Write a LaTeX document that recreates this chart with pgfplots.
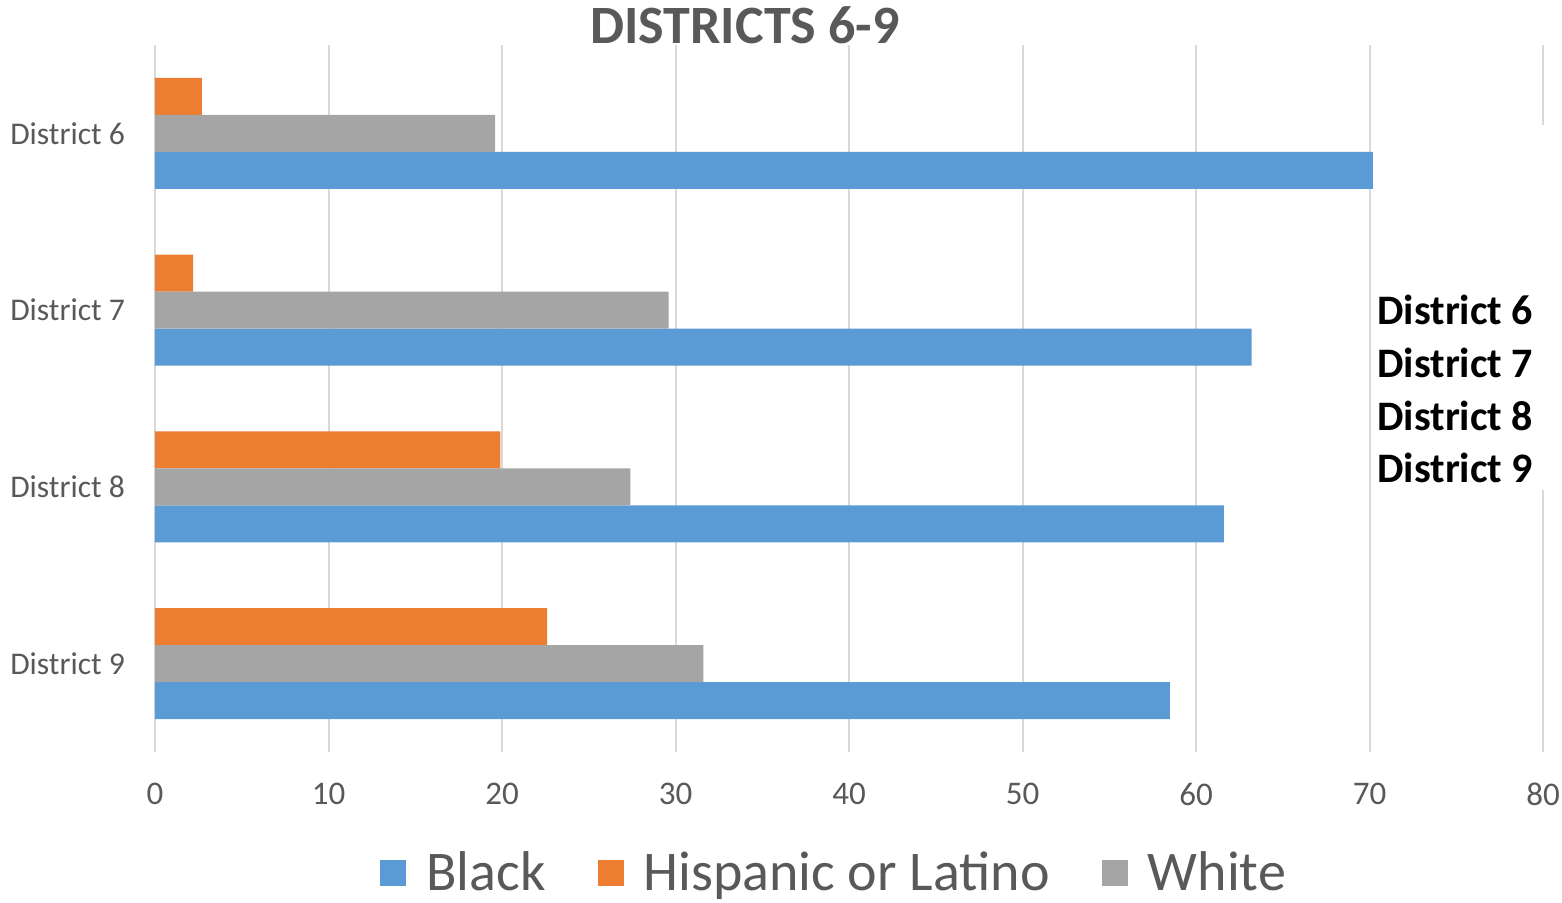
\documentclass[border=0pt]{standalone}
\usepackage{pgfplots}
\pgfplotsset{compat=1.18}
\usepackage{fontspec}
\setmainfont{Carlito}
\definecolor{cblue}{HTML}{5B9BD5}
\definecolor{corange}{HTML}{ED7D31}
\definecolor{cgray}{HTML}{A5A5A5}
\definecolor{ctext}{HTML}{595959}
\definecolor{cgrid}{HTML}{D9D9D9}
\begin{document}
\begin{tikzpicture}
\useasboundingbox (-77.5pt,-75pt) rectangle (703.5pt,376pt);
\begin{axis}[
  at={(0,0)}, anchor=south west,
  scale only axis, width=694pt, height=353.5pt,
  xmin=0, xmax=80, ymin=-0.5, ymax=3.5,
  xtick={0,10,...,80},
  ytick={0,1,2,3},
  yticklabels={District 9,District 8,District 7,District 6},
  xmajorgrids, major grid style={cgrid, line width=1pt},
  axis line style={draw=none},
  major tick length=0pt,
  xticklabel style={yshift=-12pt, font=\fontsize{16.5}{18}\selectfont, text=ctext},
  yticklabel style={xshift=-11.5pt, font=\fontsize{15.8}{18}\selectfont, text=ctext},
  /pgf/number format/assume math mode=true,
  clip=false,
  xbar, bar width=0.209, bar shift=0pt,
  legend style={at={(0.49,0)}, anchor=center, yshift=-60.5pt, draw=none,
    legend columns=-1, font=\fontsize{28}{30}\selectfont, text=ctext,
    /tikz/every even column/.append style={column sep=24pt},
    /tikz/every odd column/.append style={column sep=8pt}},
  legend image code/.code={\fill[#1] (0pt,-6.5pt) rectangle (13pt,6.5pt);},
]
\addplot[fill=cblue, draw=none] coordinates {(70.2,2.791) (63.2,1.791) (61.6,0.791) (58.5,-0.209)};
\addlegendentry{Black}
\addplot[fill=corange, draw=none] coordinates {(2.7,3.209) (2.2,2.209) (19.9,1.209) (22.6,0.209)};
\addlegendentry{Hispanic or Latino}
\addplot[fill=cgray, draw=none] coordinates {(19.6,3) (29.6,2) (27.4,1) (31.6,0)};
\addlegendentry{White}
\fill[white] (axis cs:70.2,3.047) rectangle (axis cs:81,0.982);
\node[anchor=west, inner sep=0pt, font=\fontsize{21}{23}\bfseries\selectfont] at (axis cs:70.43,2.0007) {District 6};
\node[anchor=west, inner sep=0pt, font=\fontsize{21}{23}\bfseries\selectfont] at (axis cs:70.43,1.701) {District 7};
\node[anchor=west, inner sep=0pt, font=\fontsize{21}{23}\bfseries\selectfont] at (axis cs:70.43,1.401) {District 8};
\node[anchor=west, inner sep=0pt, font=\fontsize{21}{23}\bfseries\selectfont] at (axis cs:70.43,1.107) {District 9};
\node[font=\fontsize{27}{29}\bfseries\selectfont, text=ctext, inner sep=0pt] at (axis cs:34,3.5) [yshift=10pt] {DISTRICTS 6-9};
\end{axis}
\end{tikzpicture}
\end{document}
